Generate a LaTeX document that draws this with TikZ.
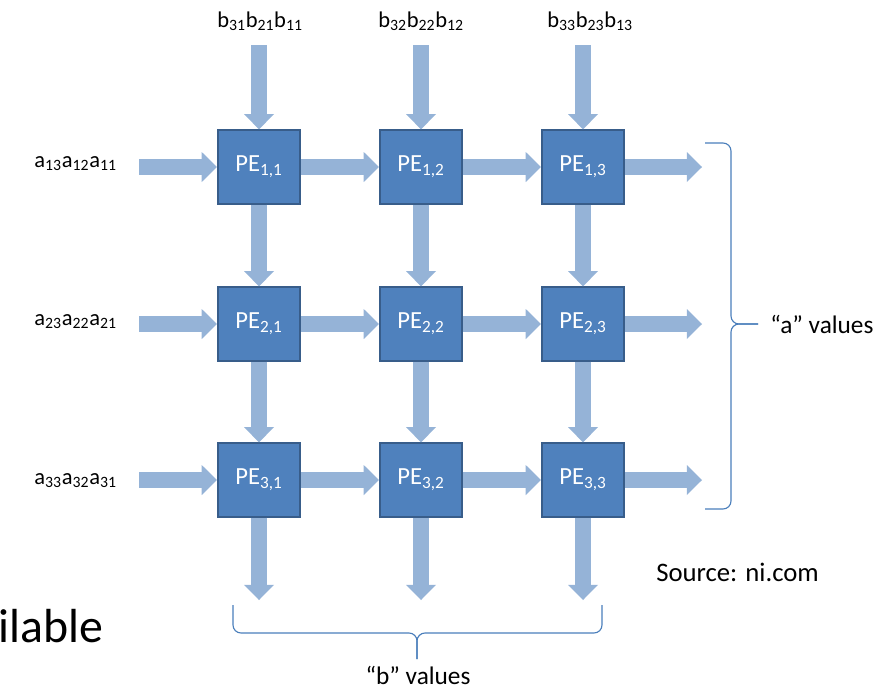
\documentclass[tikz,border=0pt]{standalone}
\usepackage{fontspec}
\setmainfont{Carlito}
\usepackage{xcolor}
\usepackage{tikz}
\usetikzlibrary{arrows.meta}

\definecolor{peblue}{HTML}{4F81BD}
\definecolor{peborder}{HTML}{385D8A}
\definecolor{flowblue}{HTML}{95B3D7}
\definecolor{bracecol}{HTML}{4A7EBB}

\begin{document}
\begin{tikzpicture}[
                x=0.025cm, y=-0.025cm,
                every node/.style={align=center},
                pe node/.style={draw=peborder, line width=1.5pt, fill=peblue, text=white,
                    minimum width=2.05cm, minimum height=1.83cm, inner sep=0pt,
                    font=\fontsize{17.5}{20}\selectfont},
                value/.style={inner sep=0pt, font=\fontsize{16}{19}\selectfont},
                note/.style={inner sep=0pt, font=\fontsize{18}{21}\selectfont},
                flow/.style={draw=flowblue, line width=0.39cm,
                    -{Triangle[length=0.38cm, width=0.75cm, line width=0pt]}},
                brace line/.style={draw=bracecol, line width=0.8pt, rounded corners=0.2cm}
            ]
            \useasboundingbox (0,0) rectangle (879,691);

            % Nodes
            \node[pe node] (P11) at (259,167) {PE\textsubscript{1,1}};
            \node[pe node] (P12) at (421,167) {PE\textsubscript{1,2}};
            \node[pe node] (P13) at (583,167) {PE\textsubscript{1,3}};
            \node[pe node] (P21) at (259,324) {PE\textsubscript{2,1}};
            \node[pe node] (P22) at (421,324) {PE\textsubscript{2,2}};
            \node[pe node] (P23) at (583,324) {PE\textsubscript{2,3}};
            \node[pe node] (P31) at (259,480) {PE\textsubscript{3,1}};
            \node[pe node] (P32) at (421,480) {PE\textsubscript{3,2}};
            \node[pe node] (P33) at (583,480) {PE\textsubscript{3,3}};

            \node[value, anchor=base] (b1) at (260,27) {b\textsubscript{31}b\textsubscript{21}b\textsubscript{11}};
            \node[value, anchor=base] (b2) at (421,27) {b\textsubscript{32}b\textsubscript{22}b\textsubscript{12}};
            \node[value, anchor=base] (b3) at (590,27) {b\textsubscript{33}b\textsubscript{23}b\textsubscript{13}};
            \node[value, anchor=base east] (a1) at (117,167) {a\textsubscript{13}a\textsubscript{12}a\textsubscript{11}};
            \node[value, anchor=base east] (a2) at (117,325) {a\textsubscript{23}a\textsubscript{22}a\textsubscript{21}};
            \node[value, anchor=base east] (a3) at (117,484) {a\textsubscript{33}a\textsubscript{32}a\textsubscript{31}};

            \node[note, anchor=base west] (avals) at (770,333) {“a” values};
            \node[note, anchor=base] (bvals) at (418,684) {“b” values};
            \node[inner sep=0pt, anchor=base west, font=\fontsize{19}{22}\selectfont] (src) at (656,581) {Source: ni.com};
            \node[inner sep=0pt, anchor=base west, font=\fontsize{34}{40}\selectfont] (cut) at (-2,642) {ilable};

            % free ends
            \coordinate (bin1) at (259,45);
            \coordinate (bin2) at (421,45);
            \coordinate (bin3) at (583,45);
            \coordinate (ain1) at (139,167);
            \coordinate (ain2) at (139,324);
            \coordinate (ain3) at (139,480);
            \coordinate (aout1) at (702,167);
            \coordinate (aout2) at (702,324);
            \coordinate (aout3) at (702,480);
            \coordinate (bout1) at (259,600);
            \coordinate (bout2) at (421,600);
            \coordinate (bout3) at (583,600);

            % Edges
            \draw[flow] (bin1) -- (P11);
            \draw[flow] (bin2) -- (P12);
            \draw[flow] (bin3) -- (P13);
            \draw[flow] (ain1) -- (P11);
            \draw[flow] (ain2) -- (P21);
            \draw[flow] (ain3) -- (P31);

            \draw[flow] (P11) -- (P12);
            \draw[flow] (P12) -- (P13);
            \draw[flow] (P21) -- (P22);
            \draw[flow] (P22) -- (P23);
            \draw[flow] (P31) -- (P32);
            \draw[flow] (P32) -- (P33);

            \draw[flow] (P11) -- (P21);
            \draw[flow] (P21) -- (P31);
            \draw[flow] (P12) -- (P22);
            \draw[flow] (P22) -- (P32);
            \draw[flow] (P13) -- (P23);
            \draw[flow] (P23) -- (P33);

            \draw[flow] (P13) -- (aout1);
            \draw[flow] (P23) -- (aout2);
            \draw[flow] (P33) -- (aout3);
            \draw[flow] (P31) -- (bout1);
            \draw[flow] (P32) -- (bout2);
            \draw[flow] (P33) -- (bout3);

            % Braces
            \draw[brace line] (705,143) -- (731,143) -- (731,324) -- (758,324);
            \draw[brace line] (705,509) -- (731,509) -- (731,324) -- (758,324);
            \draw[brace line] (233,605) -- (233,633) -- (417,633) -- (417,659);
            \draw[brace line] (602,605) -- (602,633) -- (417,633) -- (417,659);

            \end{tikzpicture}
\end{document}
